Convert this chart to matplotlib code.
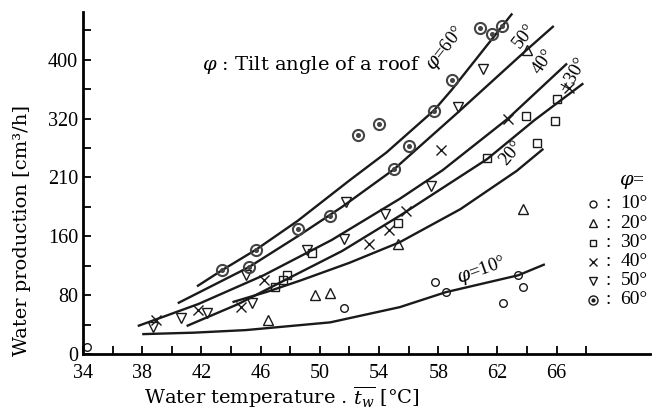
import matplotlib.pyplot as plt
import numpy as np

plt.rcParams['font.family'] = ['Liberation Serif', 'DejaVu Serif']
plt.rcParams['mathtext.fontset'] = 'dejavuserif'

# fitted curves: water temperature [C], production [cm3/h]
c10_t = [38.0, 41.5, 45.0, 50.7, 55.4, 58.5, 63.4, 65.2]
c10_w = [27, 29, 32.5, 43, 63.7, 84, 107, 122]
c20_t = [44.1, 46.5, 48.7, 52.0, 55.4, 59.5, 63.3, 65.1]
c20_w = [70.5, 85, 100, 124, 152, 197, 249, 279]
c30_t = [41.0, 44.5, 47.5, 51.5, 55.4, 61.3, 64.5, 67.8]
c30_w = [38, 68, 99, 140, 188, 265, 318, 368]
c40_t = [37.7, 41.8, 46.2, 50.8, 55.4, 58.3, 62.7, 66.7]
c40_w = [38, 68, 107, 155, 211, 250, 320, 395]
c50_t = [40.4, 45.2, 48.5, 51.5, 55.0, 59.3, 64.0, 65.8]
c50_w = [69, 118, 160, 200, 251, 328, 414, 446]
c60_t = [41.7, 43.4, 45.7, 48.5, 52.0, 54.5, 57.7, 58.9, 63.0]
c60_w = [92, 114, 142, 181, 236, 274, 331, 359, 463]

# measured points
p10_t = [34.3, 51.6, 57.8, 58.5, 62.4, 63.4, 63.7]
p10_w = [9.5, 62, 98, 84, 69, 107, 91]
p20_t = [46.5, 49.7, 50.7, 55.3, 63.7, 64.0]
p20_w = [46, 80, 83, 150, 197, 414]
p30_t = [47.0, 47.5, 47.8, 49.5, 55.3, 61.3, 64.7, 63.9, 66.0, 65.9]
p30_w = [91, 100, 108, 137, 178, 267, 287, 324, 347, 317]
p40_t = [38.9, 41.8, 44.7, 46.2, 53.3, 54.7, 55.8, 58.2, 62.7, 66.8]
p40_w = [46, 60, 64, 100, 150, 168, 195, 277, 320, 361]
p50_t = [38.7, 40.6, 42.4, 45.0, 45.4, 49.1, 51.6, 51.8, 54.4, 57.5, 59.3, 61.0]
p50_w = [37, 49, 56, 107, 70, 141, 156, 207, 191, 229, 336, 388]
p60_t = [43.4, 45.2, 45.7, 48.5, 50.7, 52.6, 54.0, 55.0, 56.0, 57.7, 58.9, 60.8, 61.6, 62.3]
p60_w = [114, 118, 142, 170, 188, 298, 313, 251, 283, 331, 373, 443, 435, 446]

ytick_vals = [0, 80, 160, 240, 320, 400]
ytick_text = ['0', '80', '160', '210', '320', '400']
angles = ['10°', '20°', '30°', '40°', '50°', '60°']

ink = '#1a1a1a'
serif = ['DejaVu Serif']

fig = plt.figure(figsize=(6.56, 4.11), dpi=100)
ax = fig.add_axes([0.1265, 0.1387, 0.8643, 0.8321])

for t, w in [(c10_t, c10_w), (c20_t, c20_w), (c30_t, c30_w),
             (c40_t, c40_w), (c50_t, c50_w), (c60_t, c60_w)]:
    ax.plot(t, w, color=ink, lw=1.7, solid_capstyle='butt')

mk = dict(ls='none', color=ink, mfc='none', mew=1.0)
ax.plot(p10_t, p10_w, marker='o', ms=5.5, **mk)
ax.plot(p20_t, p20_w, marker='^', ms=6.5, **mk)
ax.plot(p30_t, p30_w, marker='s', ms=5.5, **mk)
ax.plot(p40_t, p40_w, marker='x', ms=6.5, **mk)
ax.plot(p50_t, p50_w, marker='v', ms=6.5, **mk)
ax.plot(p60_t, p60_w, marker='o', ms=8, ls='none', color='#444', mfc='none', mew=1.5)
ax.plot(p60_t, p60_w, marker='o', ms=2.6, ls='none', color='#444')

ax.set_xlim(34, 72.3)
ax.set_ylim(0, 465)
ax.set_xticks(range(34, 67, 4))
ax.set_xticks(range(36, 69, 4), minor=True)
ax.set_yticks(ytick_vals)
ax.set_yticklabels(ytick_text)
ax.set_yticks([40, 120, 200, 280, 360, 440], minor=True)

for s in ['top', 'right']:
    ax.spines[s].set_visible(False)
for s in ['left', 'bottom']:
    ax.spines[s].set_linewidth(2)
ax.tick_params(which='both', direction='in', length=6, width=1.3, labelsize=14.5)
ax.tick_params(axis='x', pad=7)

ax.set_xlabel(r'Water temperature . $\overline{t_w}$ [°C]', fontsize=14,
              family=serif)
ax.xaxis.set_label_coords(0.35, -0.088)
ax.set_ylabel('Water production [cm³/h]', fontsize=14, family=serif)
ax.yaxis.set_label_coords(-0.092, 0.36)

ax.text(0.21, 0.845, r'$\varphi$ : Tilt angle of a roof', transform=ax.transAxes,
        fontsize=14, ha='left', va='center', family=serif)

# curve labels
lab = dict(fontsize=13.5, ha='center', va='center', rotation_mode='anchor')
ax.text(58.5, 415, r'$\varphi$=60°', rotation=52, **lab)
ax.text(63.8, 433, '50°', rotation=52, **lab)
ax.text(65.1, 398, '40°', rotation=55, **lab)
ax.text(67.1, 380, '+30°', rotation=60, **lab)
ax.text(62.9, 273, '20°', rotation=50, **lab)
ax.text(60.9, 113, r'$\varphi$=10°', rotation=20, **lab)

# key on the right
ax.text(0.968, 0.503, r'$\varphi$=', transform=ax.transAxes, fontsize=14,
        ha='center', va='center')
rows = [0.4386, 0.383, 0.3246, 0.269, 0.2135, 0.158]
keys = [('o', 5), ('^', 6), ('s', 5), ('x', 6), ('v', 6), ('o', 6.5)]
for i in range(6):
    m, size = keys[i]
    ax.plot([0.899], [rows[i]], marker=m, ms=size, transform=ax.transAxes,
            clip_on=False, color=ink, mfc='none', mew=1.0, ls='none')
    ax.text(0.926, rows[i], ':', transform=ax.transAxes, fontsize=14,
            ha='center', va='center')
    ax.text(0.948, rows[i], angles[i], transform=ax.transAxes, fontsize=14,
            ha='left', va='center')
ax.plot([0.899], [rows[5]], marker='o', ms=2, color=ink, transform=ax.transAxes,
        clip_on=False)

fig.savefig('out.png', dpi=100)
